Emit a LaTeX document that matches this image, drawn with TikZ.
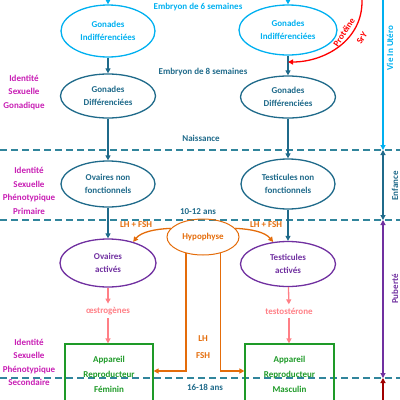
\documentclass[tikz,border=0pt]{standalone}
\usepackage{fontspec}
\setmainfont{Carlito}
\usetikzlibrary{shapes.geometric,arrows.meta,calc}
\definecolor{lblue}{HTML}{00B0F0}
\definecolor{tealc}{HTML}{1F6A8A}
\definecolor{dashc}{HTML}{31859C}
\definecolor{purp}{HTML}{7030A0}
\definecolor{grn}{HTML}{1E9A28}
\definecolor{orng}{HTML}{E46C0A}
\definecolor{mag}{HTML}{C81EB4}
\definecolor{pnk}{HTML}{FF7F86}
\definecolor{dred}{HTML}{A00000}
\begin{document}
\begin{tikzpicture}[x=1pt,y=-1pt,
  font=\fontsize{9}{13.5}\selectfont\bfseries,
  ell/.style={ellipse, draw, line width=1.3pt, inner sep=0pt, align=center},
  gbox/.style={rectangle, draw=grn, text=grn, line width=1.2pt, align=center,
     minimum height=60pt, inner sep=0pt, font=\fontsize{9}{15}\selectfont\bfseries},
  arr/.style={line width=1.3pt, -{Triangle[length=5pt,width=5pt]}},
  dbl/.style={line width=1.1pt, {Triangle[length=5pt,width=5pt]}-{Triangle[length=5pt,width=5pt]}},
  sep/.style={dashc, line width=1.2pt, dash pattern=on 7pt off 4pt},
  lab/.style={text=mag, align=center, inner sep=0pt},
  ttext/.style={inner sep=0pt}
]
\useasboundingbox (0,0) rectangle (400,400);

% separators
\draw[sep] (0,150) -- (400,150);
\draw[sep] (0,220) -- (400,220);
\draw[sep] (0,378) -- (400,378);

% stage texts
\node[ttext, text=lblue] (t6) at (198,7) {Embryon de 6 semaines};
\node[ttext, text=tealc] (t8) at (203,72) {Embryon de 8 semaines};
\node[ttext, text=tealc] (tn) at (201,138) {Naissance};
\node[ttext, text=tealc] (t10) at (198,212) {10-12 ans};
\node[ttext, text=tealc] (t16) at (205,387) {16-18 ans};

% left labels
\node[lab] (g1) at (24,92.5) {Identité\\Sexuelle\\Gonadique};
\node[lab] (g2) at (29,191) {Identité\\Sexuelle\\Phénotypique\\Primaire};
\node[lab] (g3) at (29,362.5) {Identité\\Sexuelle\\Phénotypique\\Secondaire};

% ellipses
\node[ell, draw=lblue, text=lblue, minimum width=94pt, minimum height=52pt] (e1l) at (108,31) {Gonades\\Indifférenciées};
\node[ell, draw=lblue, text=lblue, minimum width=98pt, minimum height=50pt] (e1r) at (288,30) {Gonades\\Indifférenciées};
\node[ell, draw=tealc, text=tealc, minimum width=95pt, minimum height=44pt] (e2l) at (108,96) {Gonades\\Différenciées};
\node[ell, draw=tealc, text=tealc, minimum width=95pt, minimum height=42pt] (e2r) at (288,97) {Gonades\\Différenciées};
\node[ell, draw=tealc, text=tealc, minimum width=94pt, minimum height=46pt] (e3l) at (108,184) {Ovaires non\\fonctionnels};
\node[ell, draw=tealc, text=tealc, minimum width=94pt, minimum height=50pt] (e3r) at (288,184) {Testicules non\\fonctionnels};
\node[ell, draw=purp, text=purp, minimum width=96pt, minimum height=48pt] (ova) at (108,263) {Ovaires\\activés};
\node[ell, draw=purp, text=purp, minimum width=95pt, minimum height=45pt] (tea) at (288,264) {Testicules\\activés};
\node[ell, draw=orng, text=orng, line width=1pt, minimum width=72pt, minimum height=36pt] (hyp) at (203,237) {Hypophyse};

% boxes
\node[gbox, minimum width=88pt] (bl) at (109,374) {Appareil\\Reproducteur\\Féminin};
\node[gbox, minimum width=89pt] (br) at (289.5,374) {Appareil\\Reproducteur\\Masculin};

% hormone texts
\node[text=pnk] (oes) at (108,311) {œstrogènes};
\node[text=pnk] (tes) at (289,311) {testostérone};
\node[ttext, text=orng] (lh) at (203,339) {LH};
\node[ttext, text=orng] (fsh) at (203,356) {FSH};
\node[ttext, text=orng] (lfl) at (136,225) {LH + FSH};
\node[ttext, text=orng] (lfr) at (266,225) {LH + FSH};

% vertical connectors
\coordinate (topl) at (108,0);
\coordinate (topr) at (288,0);
\draw[arr, lblue] (topl) -- (e1l);
\draw[arr, lblue] (topr) -- (e1r);
\draw[arr, tealc] (e1l) -- (e2l);
\draw[arr, tealc] (e1r) -- (e2r);
\draw[arr, tealc] (e2l) -- (e3l);
\draw[arr, tealc] (e2r) -- (e3r);
\draw[arr, tealc] (e3l) -- (ova);
\draw[arr, tealc] (e3r) -- (tea);
\draw[arr, pnk] (ova) -- (oes);
\draw[arr, pnk] (oes.south) -- (oes |- bl.north);
\draw[arr, pnk] (tea) -- (tes);
\draw[arr, pnk] (tes.south) -- (tes |- br.north);

% SRY
\coordinate (srys) at (362,0);
\coordinate (sryt) at (288,62);
\draw[arr, red] (srys) .. controls (363,40) and (325,62) .. (sryt);
\node[text=red, rotate=57, inner sep=0pt] (prot) at (344,32) {Protéine};
\node[text=red, rotate=57, inner sep=0pt] (sry) at (362,38) {SrY};

% hypophyse arrows
\draw[arr, orng] (hyp.165) .. controls (155,229) and (141,232) .. (ova.40);
\draw[arr, orng] (hyp.15) .. controls (251,229) and (265,232) .. (tea.124);
\draw[arr, orng] (hyp.-136.5) |- ([yshift=3pt]bl.east);
\draw[arr, orng] (hyp.-43.5) |- ([yshift=3pt]br.west);

% timeline
\coordinate (tl0) at (383,0);
\coordinate (tl1) at (383,150);
\coordinate (tl2) at (383,220);
\coordinate (tl3) at (383,378);
\coordinate (tl4) at (383,400);
\draw[line width=1.1pt, lblue, -{Triangle[length=5pt,width=5pt]}] (tl0) -- (tl1);
\draw[dbl, tealc] (tl1) -- (tl2);
\draw[dbl, purp] (tl2) -- (tl3);
\draw[line width=1.1pt, dred, -{Triangle[length=5pt,width=5pt]}] (tl4) -- (tl3);
\node[text=lblue, rotate=90, inner sep=0pt] (vie) at (390,48) {Vie In Utéro};
\node[text=tealc, rotate=90, inner sep=0pt] (enf) at (395,186) {Enfance};
\node[text=purp, rotate=90, inner sep=0pt] (pub) at (395,289) {Puberté};
\end{tikzpicture}
\end{document}
